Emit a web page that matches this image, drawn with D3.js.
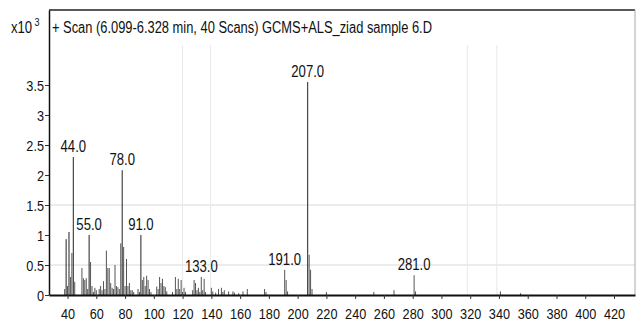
<!DOCTYPE html>
<html>
<head>
<meta charset="utf-8">
<script src="https://cdn.jsdelivr.net/npm/d3@7"></script>
<style>
  html, body { margin: 0; padding: 0; background: #fff; }
  svg { display: block; }
  text { font-family: "Liberation Sans", Arial, sans-serif; fill: #111; }
</style>
</head>
<body>
<svg id="chart" width="639" height="323"></svg>
<script>
// ---- data (intensity in counts) ----
const mz = [38,39,40,41,42,43,44,45,50,51,52,53,54,55,56,57,58,59,60,62,63,64,65,66,67,68,69,70,71,72,73,74,75,76,77,78,79,80,81,82,83,84,85,86,89,90,91,92,93,94,95,96,97,98,102,103,104,105,106,107,108,109,113,115,116,117,118,119,120,121,122,127,128,129,130,131,132,133,134,135,136,140,141,143,145,147,148,149,152,155,156,159,162,165,177,178,191,192,193,207,208,209,210,220,253,267,281,282,341,355];
const intensity = [100,930,150,1050,300,700,2300,220,450,280,250,280,100,1000,550,150,50,120,80,100,150,80,230,100,740,450,450,200,120,100,500,150,130,100,860,2080,800,150,600,150,200,80,80,50,100,50,1000,250,300,150,320,250,100,50,140,100,300,200,270,150,130,60,50,300,100,270,100,250,50,120,50,80,250,200,80,120,50,300,80,270,50,120,60,40,100,120,50,80,60,60,40,30,60,100,100,50,420,250,60,3550,670,420,100,50,50,80,330,60,60,30];
const labeledPeaks = [44, 55, 78, 91, 133, 191, 207, 281];
const xTicks = [40,60,80,100,120,140,160,180,200,220,240,260,280,300,320,340,360,380,400,420];
const yTicks = [0,0.5,1,1.5,2,2.5,3,3.5];
const hGrid = [0.5, 1.5];
const vGrid = [120, 139.5, 318, 338.5];
const titleText = "+ Scan (6.099-6.328 min, 40 Scans) GCMS+ALS_ziad sample 6.D";

// ---- layout ----
const L = 49, R = 635, T = 10, B = 295;
const svg = d3.select("#chart");
const x = d3.scaleLinear().domain([27.1, 434.6]).range([L, R]);
const y = d3.scaleLinear().domain([0, 4.75]).range([B, T]);
const NX = 0.82;

// faint grid lines
svg.append("g").selectAll("line").data(hGrid).join("line")
  .attr("x1", L).attr("x2", R)
  .attr("y1", d => y(d)).attr("y2", d => y(d))
  .attr("stroke", "#d9d9d9").attr("stroke-width", 1);
svg.append("g").selectAll("line").data(vGrid).join("line")
  .attr("x1", d => x(d)).attr("x2", d => x(d))
  .attr("y1", 45).attr("y2", B)
  .attr("stroke", "#e8e8e8").attr("stroke-width", 1);

// frame
svg.append("line").attr("x1", L).attr("x2", R).attr("y1", T).attr("y2", T)
  .attr("stroke", "#222").attr("stroke-width", 1.5);
svg.append("line").attr("x1", R).attr("x2", R).attr("y1", T).attr("y2", B)
  .attr("stroke", "#aaa").attr("stroke-width", 1);

// sticks
const peaks = mz.map((m, i) => ({ m, v: intensity[i] / 1000 }));
svg.append("g").selectAll("line").data(peaks).join("line")
  .attr("x1", d => x(d.m)).attr("x2", d => x(d.m))
  .attr("y1", y(0)).attr("y2", d => y(d.v))
  .attr("stroke", d => d.v > 0.9 ? "#222" : "#555")
  .attr("stroke-width", 1);

// peak labels
svg.append("g").selectAll("text").data(peaks.filter(p => labeledPeaks.includes(p.m))).join("text")
  .attr("transform", d => `translate(${x(d.m)},${y(d.v) - 5}) scale(${NX},1)`)
  .attr("text-anchor", "middle")
  .attr("font-size", 16)
  .text(d => d.m.toFixed(1));

// x axis
const xAxis = svg.append("g").attr("transform", `translate(0,${B})`)
  .call(d3.axisBottom(x).tickValues(xTicks).tickSize(4).tickSizeOuter(0).tickFormat(d3.format("d")));
xAxis.select(".domain").attr("stroke", "#111").attr("stroke-width", 2);
xAxis.selectAll(".tick line").attr("stroke", "#333");
xAxis.selectAll(".tick text")
  .attr("font-size", 15.5).attr("font-family", "Liberation Sans, Arial, sans-serif")
  .attr("fill", "#111").attr("y", 0).attr("dy", 0)
  .attr("transform", `translate(0,24) scale(${NX},1)`);

// y axis
const yAxis = svg.append("g").attr("transform", `translate(${L},0)`)
  .call(d3.axisLeft(y).tickValues(yTicks).tickSize(4).tickSizeOuter(0).tickFormat(d => d3.format("")(d)));
yAxis.select(".domain").attr("stroke", "#111").attr("stroke-width", 1.5);
yAxis.selectAll(".tick line").attr("stroke", "#333");
yAxis.selectAll(".tick text")
  .attr("font-size", 15.5).attr("font-family", "Liberation Sans, Arial, sans-serif")
  .attr("fill", "#111").attr("x", 0).attr("dy", "0.36em")
  .attr("transform", `translate(-5,0) scale(${NX},1)`);

// multiplier label
const mult = svg.append("text")
  .attr("transform", `translate(11,33) scale(${NX},1)`)
  .attr("font-size", 16);
mult.append("tspan").text("x10");
mult.append("tspan").attr("font-size", 11).attr("dx", 3).attr("dy", -7).text("3");

// title
svg.append("text")
  .attr("x", 52).attr("y", 33)
  .attr("font-size", 16)
  .attr("textLength", 380).attr("lengthAdjust", "spacingAndGlyphs")
  .text(titleText);
</script>
</body>
</html>
